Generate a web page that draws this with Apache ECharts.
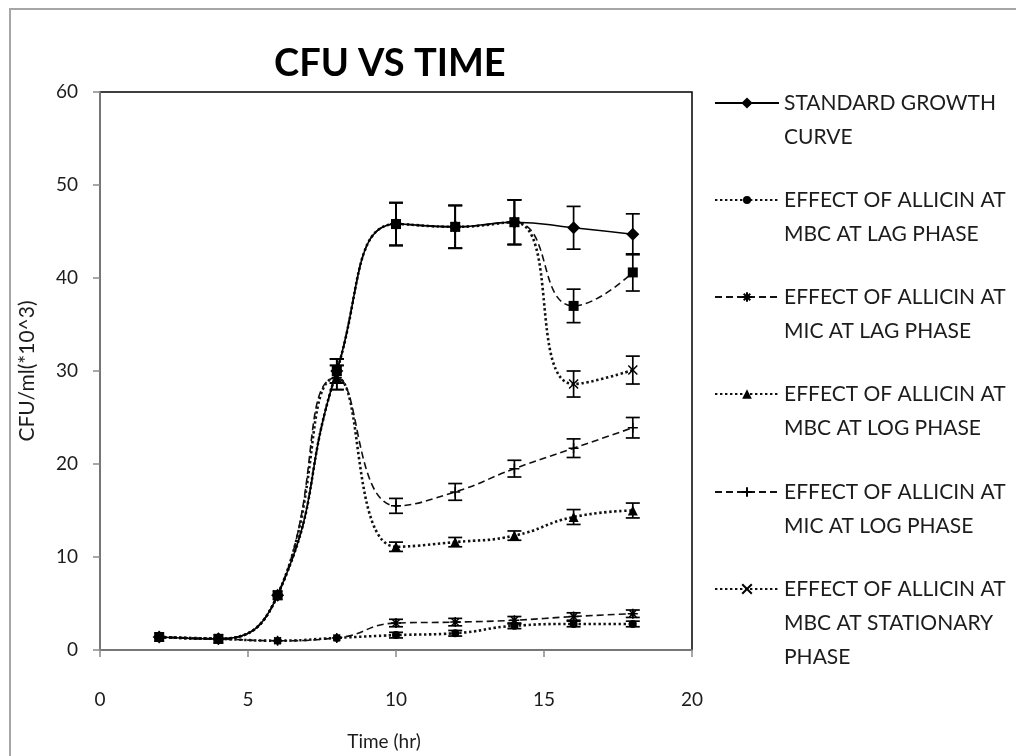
<!DOCTYPE html>
<html>
<head>
<meta charset="utf-8">
<script src="https://cdn.jsdelivr.net/npm/echarts@6/dist/echarts.min.js"></script>
<style>
  html, body { margin: 0; padding: 0; background: #fff; }
  #chart { width: 1016px; height: 756px; }
</style>
</head>
<body>
<div id="chart"></div>
<script>
// Sampling times (hours)
const times = [2, 4, 6, 8, 10, 12, 14, 16, 18];

// Axis ranges and tick steps
const xRange = [0, 20], xStep = 5;
const yRange = [0, 60], yStep = 10;

// CFU/ml (x10^3) per series, with error bar half-widths
const standardCurve = [1.4, 1.2, 5.9, 30.0, 45.8, 45.5, 46.0, 45.4, 44.7];
const standardErr   = [0.2, 0.2, 0.2, 1.3, 2.3, 2.3, 2.4, 2.3, 2.2];

const mbcLag    = [1.4, 1.2, 1.0, 1.3, 1.6, 1.8, 2.6, 2.8, 2.8];
const mbcLagErr = [0.1, 0.1, 0.1, 0.2, 0.3, 0.3, 0.3, 0.3, 0.3];

const micLag    = [1.4, 1.2, 1.0, 1.3, 2.9, 3.0, 3.2, 3.6, 3.9];
const micLagErr = [0.1, 0.1, 0.1, 0.2, 0.4, 0.4, 0.4, 0.4, 0.4];

const mbcLog    = [1.4, 1.2, 5.9, 29.3, 11.1, 11.6, 12.3, 14.3, 15.0];
const mbcLogErr = [0.2, 0.2, 0.2, 1.3, 0.5, 0.5, 0.5, 0.8, 0.8];

const micLog    = [1.4, 1.2, 5.9, 29.3, 15.5, 17.0, 19.5, 21.7, 23.9];
const micLogErr = [0.2, 0.2, 0.2, 1.3, 0.8, 0.9, 0.9, 1.0, 1.1];

const mbcStat    = [1.4, 1.2, 5.9, 30.0, 45.8, 45.5, 46.0, 28.6, 30.1];
const mbcStatErr = [0.2, 0.2, 0.2, 1.3, 2.3, 2.3, 2.4, 1.4, 1.5];

const micStat    = [1.4, 1.2, 5.9, 30.0, 45.8, 45.5, 46.0, 37.0, 40.6];
const micStatErr = [0.2, 0.2, 0.2, 1.3, 2.3, 2.3, 2.4, 1.8, 2.0];

// Series names and the wrapped text shown in the legend
const seriesNames = [
  'STANDARD GROWTH CURVE',
  'EFFECT OF ALLICIN AT MBC AT LAG PHASE',
  'EFFECT OF ALLICIN AT MIC AT LAG PHASE',
  'EFFECT OF ALLICIN AT MBC AT LOG PHASE',
  'EFFECT OF ALLICIN AT MIC AT LOG PHASE',
  'EFFECT OF ALLICIN AT MBC AT STATIONARY PHASE',
  'EFFECT OF ALLICIN AT MIC AT STATIONARY PHASE'
];
const legendLines = [
  ['STANDARD GROWTH', 'CURVE'],
  ['EFFECT OF ALLICIN AT', 'MBC AT LAG PHASE'],
  ['EFFECT OF ALLICIN AT', 'MIC AT LAG PHASE'],
  ['EFFECT OF ALLICIN AT', 'MBC AT LOG PHASE'],
  ['EFFECT OF ALLICIN AT', 'MIC AT LOG PHASE'],
  ['EFFECT OF ALLICIN AT', 'MBC AT STATIONARY', 'PHASE']
];

const FONT = 'Lato, "Open Sans", sans-serif';
const INK = '#1c1c1c';

// Marker shapes
const SYM_ASTERISK = 'path://M5,0L5,10M0,5L10,5M1.6,1.6L8.4,8.4M8.4,1.6L1.6,8.4';
const SYM_PLUS = 'path://M5,0L5,10M0,5L10,5';
const SYM_CROSS = 'path://M0,0L10,10M10,0L0,10';

const DOTTED = { type: [2.4, 2.6], width: 2.6 };
const DASHED = { type: [7, 4], width: 1.6 };
const SOLID = { type: 'solid', width: 1.6 };

const seriesDefs = [
  { values: standardCurve, err: standardErr, symbol: 'diamond', size: 13, line: SOLID, stroke: false, z: 6 },
  { values: mbcLag,  err: mbcLagErr,  symbol: 'circle',   size: 8,  line: DOTTED, stroke: false, z: 2 },
  { values: micLag,  err: micLagErr,  symbol: SYM_ASTERISK, size: 10, line: DASHED, stroke: true, z: 2 },
  { values: mbcLog,  err: mbcLogErr,  symbol: 'triangle', size: 10, line: DOTTED, stroke: false, z: 2 },
  { values: micLog,  err: micLogErr,  symbol: SYM_PLUS,   size: 10, line: DASHED, stroke: true, z: 2 },
  { values: mbcStat, err: mbcStatErr, symbol: SYM_CROSS,  size: 9,  line: DOTTED, stroke: true, z: 2 },
  { values: micStat, err: micStatErr, symbol: 'rect',     size: 10, line: DASHED, stroke: false, z: 2 }
];

const series = [];
seriesDefs.forEach(function (d, i) {
  series.push({
    type: 'line',
    name: seriesNames[i],
    data: times.map(function (t, k) { return [t, d.values[k]]; }),
    smooth: 0.5,
    symbol: d.symbol,
    symbolSize: d.size,
    showSymbol: true,
    color: '#000',
    lineStyle: { color: i === 0 ? '#000' : '#111', width: d.line.width, type: d.line.type },
    itemStyle: d.stroke
      ? { color: '#000', borderColor: '#000', borderWidth: 1.5 }
      : { color: '#000' },
    z: d.z
  });
  // Error bars for the same series
  series.push({
    type: 'custom',
    name: seriesNames[i] + ' error',
    silent: true,
    z: 4,
    encode: { x: 0, y: [1, 2] },
    data: times.map(function (t, k) {
      return [t, d.values[k] - d.err[k], d.values[k] + d.err[k]];
    }).filter(function (r, k) { return d.err[k] >= 0.3; }),
    renderItem: function (params, api) {
      const x = api.value(0);
      const lo = api.coord([x, api.value(1)]);
      const hi = api.coord([x, api.value(2)]);
      const w = 7;
      const st = { stroke: '#000', lineWidth: 1.7 };
      return {
        type: 'group',
        children: [
          { type: 'line', shape: { x1: lo[0], y1: lo[1], x2: hi[0], y2: hi[1] }, style: st },
          { type: 'line', shape: { x1: hi[0] - w, y1: hi[1], x2: hi[0] + w, y2: hi[1] }, style: st },
          { type: 'line', shape: { x1: lo[0] - w, y1: lo[1], x2: lo[0] + w, y2: lo[1] }, style: st }
        ]
      };
    }
  });
});

// One legend block per entry; leading blank lines keep the marker on the first text line
const LINE_H = 34;
const legendFirstLineY = [103, 200, 297, 394, 492, 589];
const legendIconH = [14, 10, 12, 12, 12, 12];
const legends = legendLines.map(function (lines, i) {
  const n = lines.length;
  const padded = new Array(n - 1).fill('').concat(lines).join('\n');
  return {
    orient: 'vertical',
    left: 714,
    top: legendFirstLineY[i] - (2 * n - 1) * LINE_H / 2,
    padding: 0,
    itemWidth: 64,
    itemHeight: legendIconH[i],
    selectedMode: false,
    data: [seriesNames[i]],
    formatter: function () { return padded; },
    textStyle: {
      fontFamily: FONT,
      fontSize: 21,
      lineHeight: LINE_H,
      color: INK
    }
  };
});

const chart = echarts.init(document.getElementById('chart'), null, { renderer: 'canvas' });
chart.setOption({
  animation: false,
  backgroundColor: '#fff',
  title: {
    text: 'CFU VS TIME',
    left: 274,
    top: 45,
    padding: 0,
    textStyle: { fontFamily: FONT, fontWeight: 'bold', fontSize: 38, color: '#000' }
  },
  graphic: [
    {
      type: 'rect',
      shape: { x: 10, y: 9, width: 1100, height: 1000 },
      style: { fill: 'none', stroke: '#a6a6a6', lineWidth: 2 },
      silent: true,
      z: -10
    }
  ],
  legend: legends,
  grid: {
    left: 100, top: 92, width: 592, height: 560,
    show: true, borderColor: '#000', borderWidth: 1.5, backgroundColor: 'transparent'
  },
  xAxis: {
    type: 'value',
    min: xRange[0], max: xRange[1], interval: xStep,
    name: 'Time (hr)',
    nameLocation: 'middle',
    nameGap: 82,
    nameTextStyle: { fontFamily: FONT, fontSize: 19, color: INK, padding: [0, 24, 0, 0] },
    axisLine: { lineStyle: { color: '#8a8a8a', width: 1.5 } },
    axisTick: { show: true, inside: false, length: 7, lineStyle: { color: '#8a8a8a', width: 1.5 } },
    axisLabel: { fontFamily: FONT, fontSize: 19, color: INK, margin: 40 },
    splitLine: { show: false }
  },
  yAxis: {
    type: 'value',
    min: yRange[0], max: yRange[1], interval: yStep,
    name: 'CFU/ml(*10^3)',
    nameLocation: 'middle',
    nameGap: 62,
    nameTextStyle: { fontFamily: FONT, fontSize: 21, color: INK },
    axisLine: { show: true, lineStyle: { color: '#8a8a8a', width: 1.5 } },
    axisTick: { show: true, inside: false, length: 7, lineStyle: { color: '#8a8a8a', width: 1.5 } },
    axisLabel: { fontFamily: FONT, fontSize: 19, color: INK, margin: 22 },
    splitLine: { show: false }
  },
  series: series
});
</script>
</body>
</html>
